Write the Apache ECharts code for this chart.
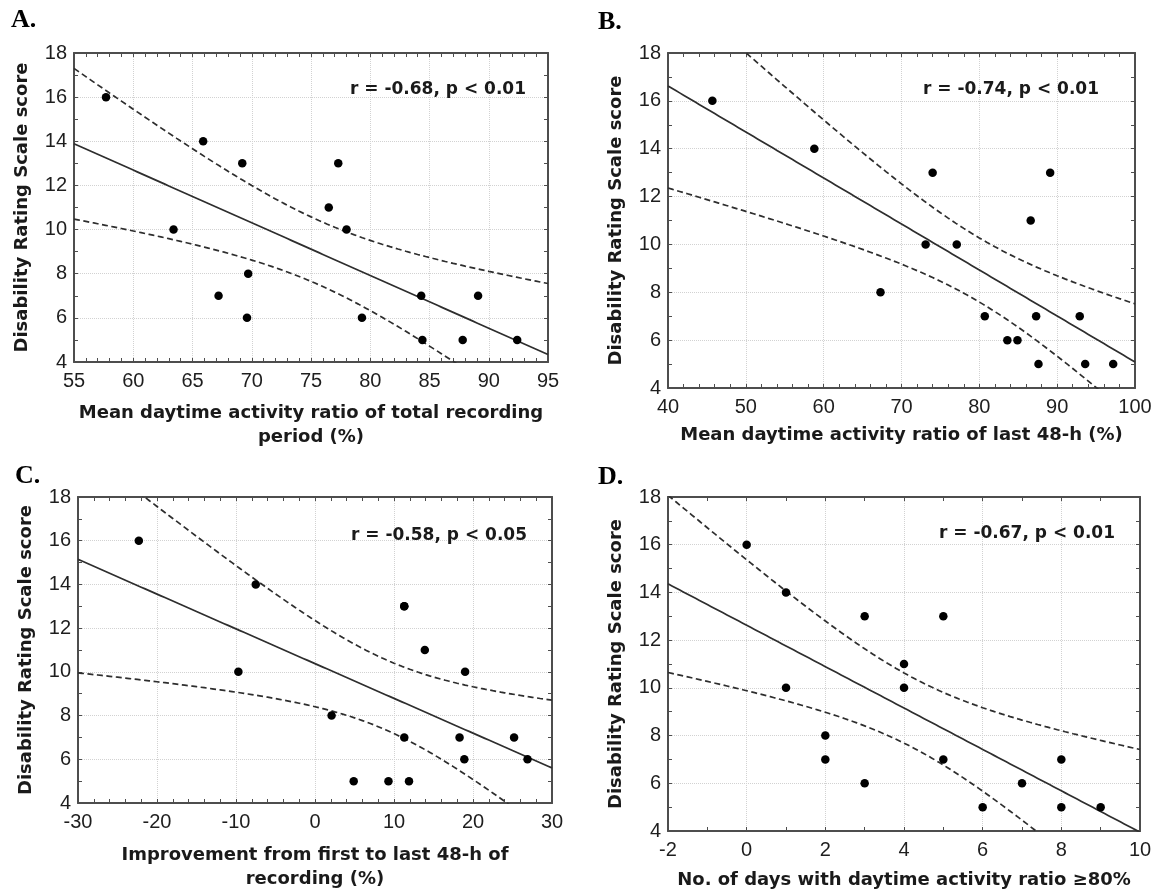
<!DOCTYPE html>
<html>
<head>
<meta charset="utf-8">
<script src="https://cdn.jsdelivr.net/npm/echarts@6/dist/echarts.min.js"></script>
<style>
  html, body { margin: 0; padding: 0; background: #fff; }
  #chart { width: 1161px; height: 896px; }
</style>
</head>
<body>
<div id="chart"></div>
<script>
// ---- data -------------------------------------------------------------
// Panel A: mean daytime activity ratio over the whole recording
const ratioTotal = [57.7, 65.9, 69.2, 77.3, 63.4, 76.5, 78.0, 69.7, 67.2, 69.6, 79.3, 84.3, 84.4, 87.8, 89.1, 92.4];
const scoreA     = [16,   14,   13,   13,   10,   11,   10,   8,    7,    6,    6,    7,    5,    5,    7,    5];

// Panel B: mean daytime activity ratio of the last 48 h
const ratioLast48 = [45.7, 58.8, 74.0, 89.1, 86.6, 73.1, 77.1, 67.3, 80.7, 87.3, 92.9, 83.6, 84.9, 87.6, 93.6, 97.2];
const scoreB      = [16,   14,   13,   13,   11,   10,   10,   8,    7,    7,    7,    6,    6,    5,    5,    5];

// Panel C: improvement from first to last 48 h (two patients share a point at 11.3 / 13)
const improvement = [-22.3, -7.5, 11.3, 11.3, 13.9, -9.7, 19.0, 2.1, 11.3, 18.3, 25.2, 18.9, 26.9, 4.9, 9.3, 11.9];
const scoreC      = [16,    14,   13,   13,   11,   10,   10,   8,   7,    7,    7,    6,    6,    5,   5,   5];

// Panel D: number of days with daytime activity ratio >= 80 %
const daysAbove80 = [0,  1,  3,  5,  4,  1,  4,  2, 2, 5, 8, 3, 7, 6, 8, 9];
const scoreD      = [16, 14, 13, 13, 11, 10, 10, 8, 7, 7, 7, 6, 6, 5, 5, 5];

// axis ticks
const scoreTicks       = [4, 6, 8, 10, 12, 14, 16, 18];
const ratioTotalTicks  = [55, 60, 65, 70, 75, 80, 85, 90, 95];
const ratioLast48Ticks = [40, 50, 60, 70, 80, 90, 100];
const improvementTicks = [-30, -20, -10, 0, 10, 20, 30];
const daysTicks        = [-2, 0, 2, 4, 6, 8, 10];

// texts
const panelLetters = ['A.', 'B.', 'C.', 'D.'];
const correlationNotes = ['r = -0.68, p < 0.01', 'r = -0.74, p < 0.01', 'r = -0.58, p < 0.05', 'r = -0.67, p < 0.01'];
const xTitles = [
  'Mean daytime activity ratio of total recording\nperiod (%)',
  'Mean daytime activity ratio of last 48-h (%)',
  'Improvement from first to last 48-h of\nrecording (%)',
  'No. of days with daytime activity ratio \u226580%'
];
const yTitle = 'Disability Rating Scale score';

// ---- least-squares fit with 95 % confidence band for the mean ----------
const T_CRIT = 2.145; // two-sided 95 %, df = 14
function fitWithBand(xs, ys, lo, hi) {
  const n = xs.length;
  const mx = xs.reduce((s, v) => s + v, 0) / n;
  const my = ys.reduce((s, v) => s + v, 0) / n;
  let sxx = 0, sxy = 0;
  for (let i = 0; i < n; i++) {
    sxx += (xs[i] - mx) * (xs[i] - mx);
    sxy += (xs[i] - mx) * (ys[i] - my);
  }
  const b = sxy / sxx, a = my - b * mx;
  let sse = 0;
  for (let i = 0; i < n; i++) sse += Math.pow(ys[i] - a - b * xs[i], 2);
  const s = Math.sqrt(sse / (n - 2));
  const fit = [], upper = [], lower = [];
  const steps = 120;
  for (let k = 0; k <= steps; k++) {
    const x = lo + (hi - lo) * k / steps;
    const yh = a + b * x;
    const h = T_CRIT * s * Math.sqrt(1 / n + (x - mx) * (x - mx) / sxx);
    fit.push([x, yh]);
    upper.push([x, yh + h]);
    lower.push([x, yh - h]);
  }
  return { fit, upper, lower };
}

// ---- layout ------------------------------------------------------------
const grids = [
  { left: 74,  top: 53,  width: 474, height: 309 },
  { left: 668, top: 53,  width: 467, height: 335 },
  { left: 78,  top: 497, width: 474, height: 306 },
  { left: 668, top: 497, width: 472, height: 334 }
];
const panels = [
  { xs: ratioTotal,  ys: scoreA, ticks: ratioTotalTicks,  minor: 5, nameGap: 39 },
  { xs: ratioLast48, ys: scoreB, ticks: ratioLast48Ticks, minor: 5, nameGap: 35 },
  { xs: improvement, ys: scoreC, ticks: improvementTicks, minor: 5, nameGap: 40 },
  { xs: daysAbove80, ys: scoreD, ticks: daysTicks,        minor: 2, nameGap: 37 }
];
const letterPos = [[11, 20], [598, 22], [15, 476], [598, 477]];
const notePos = [[526, 90], [1099, 90], [527, 536], [1115, 534]];

const FRAME = '#4d4d4d';
const INK = '#1a1a1a';
const tickLabel = { color: '#1e1e1e', fontFamily: 'Liberation Sans, Arial, sans-serif', fontSize: 20 };
const boldName = { color: INK, fontFamily: 'DejaVu Sans, sans-serif', fontWeight: 'bold', fontSize: 18, lineHeight: 24 };

const xAxes = [], yAxes = [], series = [], graphics = [];

panels.forEach((p, i) => {
  const xMin = p.ticks[0], xMax = p.ticks[p.ticks.length - 1], xStep = p.ticks[1] - p.ticks[0];
  const yMin = scoreTicks[0], yMax = scoreTicks[scoreTicks.length - 1], yStep = scoreTicks[1] - scoreTicks[0];
  const tickIn = { show: true, inside: true, length: 4, lineStyle: { color: FRAME, width: 1 } };
  const minorIn = (n) => ({ show: true, splitNumber: n, length: 4, lineStyle: { color: FRAME, width: 1 } });

  // bottom axis with labels and grid lines
  xAxes.push({
    gridIndex: i, type: 'value', position: 'bottom',
    min: xMin, max: xMax, interval: xStep,
    axisLine: { show: true, onZero: false, lineStyle: { color: FRAME, width: 2 } },
    axisTick: tickIn, minorTick: minorIn(p.minor),
    axisLabel: Object.assign({ margin: 9 }, tickLabel),
    splitLine: { show: true, lineStyle: { color: '#d2d2d2', type: 'dotted', width: 1 } },
    name: xTitles[i], nameLocation: 'middle', nameGap: p.nameGap, nameTextStyle: boldName
  });
  // top axis: frame edge with ticks only
  xAxes.push({
    gridIndex: i, type: 'value', position: 'top',
    min: xMin, max: xMax, interval: xStep,
    axisLine: { show: true, onZero: false, lineStyle: { color: FRAME, width: 2 } },
    axisTick: tickIn, minorTick: minorIn(p.minor),
    axisLabel: { show: false }, splitLine: { show: false }
  });
  // left axis with labels and grid lines
  yAxes.push({
    gridIndex: i, type: 'value', position: 'left',
    min: yMin, max: yMax, interval: yStep,
    axisLine: { show: true, onZero: false, lineStyle: { color: FRAME, width: 2 } },
    axisTick: tickIn, minorTick: minorIn(2),
    axisLabel: Object.assign({ margin: 7 }, tickLabel),
    splitLine: { show: true, lineStyle: { color: '#d2d2d2', type: 'dotted', width: 1 } },
    name: yTitle, nameLocation: 'middle', nameGap: 40, nameTextStyle: boldName
  });
  // right axis: frame edge with ticks only
  yAxes.push({
    gridIndex: i, type: 'value', position: 'right',
    min: yMin, max: yMax, interval: yStep,
    axisLine: { show: true, onZero: false, lineStyle: { color: FRAME, width: 2 } },
    axisTick: tickIn, minorTick: minorIn(2),
    axisLabel: { show: false }, splitLine: { show: false }
  });

  const xi = i * 2, yi = i * 2;
  const band = fitWithBand(p.xs, p.ys, xMin, xMax);
  const lineBase = { type: 'line', xAxisIndex: xi, yAxisIndex: yi, showSymbol: false, symbol: 'none', clip: true, silent: true, z: 3 };

  series.push(Object.assign({}, lineBase, { data: band.fit, lineStyle: { color: '#2e2e2e', width: 1.7, type: 'solid' } }));
  series.push(Object.assign({}, lineBase, { data: band.upper, lineStyle: { color: '#2e2e2e', width: 1.7, type: [6, 3.5] } }));
  series.push(Object.assign({}, lineBase, { data: band.lower, lineStyle: { color: '#2e2e2e', width: 1.7, type: [6, 3.5] } }));
  series.push({
    type: 'scatter', xAxisIndex: xi, yAxisIndex: yi,
    data: p.xs.map((x, k) => [x, p.ys[k]]),
    symbol: 'circle', symbolSize: 8.5,
    itemStyle: { color: '#000', opacity: 1 }, z: 4
  });

  graphics.push({
    type: 'text', x: letterPos[i][0], y: letterPos[i][1],
    style: {
      text: panelLetters[i], fill: '#000',
      font: 'bold 26px "Liberation Serif", "Times New Roman", serif',
      align: 'left', verticalAlign: 'middle', textAlign: 'left', textVerticalAlign: 'middle'
    }
  });
  graphics.push({
    type: 'text', x: notePos[i][0], y: notePos[i][1], z: 10,
    style: {
      text: correlationNotes[i], fill: INK,
      font: 'bold 17px "DejaVu Sans", sans-serif',
      align: 'right', verticalAlign: 'middle', textAlign: 'right', textVerticalAlign: 'middle'
    }
  });
});

const chart = echarts.init(document.getElementById('chart'), null, { renderer: 'canvas' });
chart.setOption({
  animation: false,
  backgroundColor: '#fff',
  grid: grids.map(g => Object.assign({ containLabel: false, show: false }, g)),
  xAxis: xAxes,
  yAxis: yAxes,
  series: series,
  graphic: graphics
});
</script>
</body>
</html>
